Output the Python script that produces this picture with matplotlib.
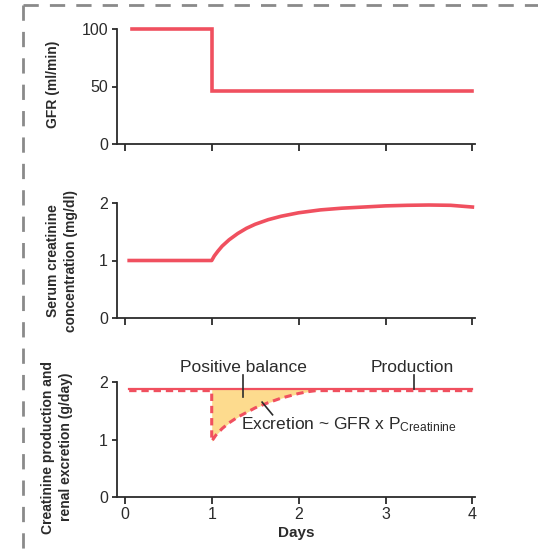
import matplotlib
matplotlib.use("Agg")
import matplotlib.pyplot as plt
from matplotlib.lines import Line2D

plt.rcParams["font.family"] = ["Liberation Sans", "DejaVu Sans"]
plt.rcParams["mathtext.default"] = "regular"

# GFR step
gfr_days = [0.08, 1.0, 1.0, 4.0]
gfr_vals = [100, 100, 46, 46]

# serum creatinine
scr_days = [0.05, 0.5, 1.0, 1.03, 1.07, 1.12, 1.2, 1.3, 1.4, 1.5, 1.65, 1.8, 2.0,
            2.25, 2.5, 2.75, 3.0, 3.25, 3.5, 3.75, 4.0]
scr_vals = [1.0, 1.0, 1.0, 1.08, 1.16, 1.25, 1.36, 1.47, 1.56, 1.63, 1.71, 1.77, 1.83,
            1.88, 1.91, 1.93, 1.95, 1.96, 1.965, 1.96, 1.93]

# production / excretion
prod_days = [0.05, 4.0]
prod_vals = [1.88, 1.88]
exc_days = [0.05, 1.0, 1.0, 1.05, 1.12, 1.2, 1.3, 1.4, 1.5, 1.65, 1.8, 2.0, 2.1, 2.2, 4.0]
exc_vals = [1.85, 1.85, 0.97, 1.08, 1.19, 1.29, 1.39, 1.47, 1.55, 1.64, 1.72, 1.8, 1.83, 1.85, 1.85]

x_ticks = [0, 1, 2, 3, 4]

RED = "#f0505f"
FILL = "#fddb8e"
AX = "#2b2b2b"

W, H = 538, 550
fig = plt.figure(figsize=(W / 100, H / 100), dpi=100)


def make_ax(top, bottom):
    left, right = 117, 475
    ax = fig.add_axes([left / W, 1 - bottom / H, (right - left) / W, (bottom - top) / H])
    ax.set_xlim(-0.09, 4.03)
    for s in ["top", "right"]:
        ax.spines[s].set_visible(False)
    for s in ["left", "bottom"]:
        ax.spines[s].set_color(AX)
        ax.spines[s].set_linewidth(1.3)
    ax.set_xticks(x_ticks)
    ax.tick_params(axis="x", direction="out", length=5, width=1.3, color=AX,
                   labelsize=11.5, labelcolor=AX, pad=2)
    ax.tick_params(axis="y", direction="out", length=3.5, width=1.3, color=AX,
                   labelsize=11.5, labelcolor=AX, pad=3)
    return ax


# panel 1
ax1 = make_ax(29, 144)
ax1.plot(gfr_days, gfr_vals, color=RED, lw=2.6, clip_on=False, solid_joinstyle="miter")
ax1.set_ylim(0, 100)
ax1.set_yticks([0, 50, 100])
ax1.tick_params(axis="x", labelbottom=False)

# panel 2
ax2 = make_ax(203, 318)
ax2.plot(scr_days, scr_vals, color=RED, lw=2.6, clip_on=False)
ax2.set_ylim(0, 2)
ax2.set_yticks([0, 1, 2])
ax2.tick_params(axis="x", labelbottom=False)

# panel 3
ax3 = make_ax(382, 497)
ax3.set_ylim(0, 2)
ax3.set_yticks([0, 1, 2])
fill_x = [d for d in exc_days if 1.0 <= d <= 2.2]
fill_y = [v for d, v in zip(exc_days, exc_vals) if 1.0 <= d <= 2.2]
ax3.fill_between(fill_x, fill_y, prod_vals[0], color=FILL, lw=0)
ax3.plot(prod_days, prod_vals, color=RED, lw=1.6, clip_on=False)
ax3.plot(exc_days, exc_vals, color=RED, lw=2.2, ls=(0, (2.4, 1.6)), clip_on=False)
ax3.set_xlabel("Days", fontsize=11, fontweight="bold", color=AX, labelpad=3)

ax3.text(1.36, 2.25, "Positive balance", ha="center", va="center", fontsize=12.5, color=AX)
ax3.plot([1.36, 1.36], [2.13, 1.74], color=AX, lw=1.2, clip_on=False)
ax3.text(3.31, 2.25, "Production", ha="center", va="center", fontsize=12.5, color=AX)
ax3.plot([3.33, 3.33], [2.13, 1.88], color=AX, lw=1.2, clip_on=False)
ax3.text(1.34, 1.25, "Excretion ~ GFR x P$_{Creatinine}$", ha="left", va="center",
         fontsize=12.5, color=AX)
ax3.plot([1.58, 1.70], [1.65, 1.43], color=AX, lw=1.2, clip_on=False)

# y labels
lab = dict(rotation=90, ha="center", va="center", fontsize=10, fontweight="bold",
           color=AX, linespacing=1.35)
fig.text(53 / W, 1 - 84 / H, "GFR (ml/min)", **lab)
fig.text(62 / W, 1 - 261 / H, "Serum creatinine\nconcentration (mg/dl)", **lab)
fig.text(57 / W, 1 - 447 / H, "Creatinine production and\nrenal excretion (g/day)", **lab)

# dashed frame
fig.add_artist(Line2D([23 / W, 1.0], [1 - 5 / H, 1 - 5 / H], color="#8a8a8a", lw=2,
                      ls=(0, (5.5, 4)), transform=fig.transFigure))
fig.add_artist(Line2D([23 / W, 23 / W], [1 - 5 / H, 0.0], color="#8a8a8a", lw=2,
                      ls=(0, (5.5, 4)), transform=fig.transFigure))

fig.savefig("out.png", dpi=100)
